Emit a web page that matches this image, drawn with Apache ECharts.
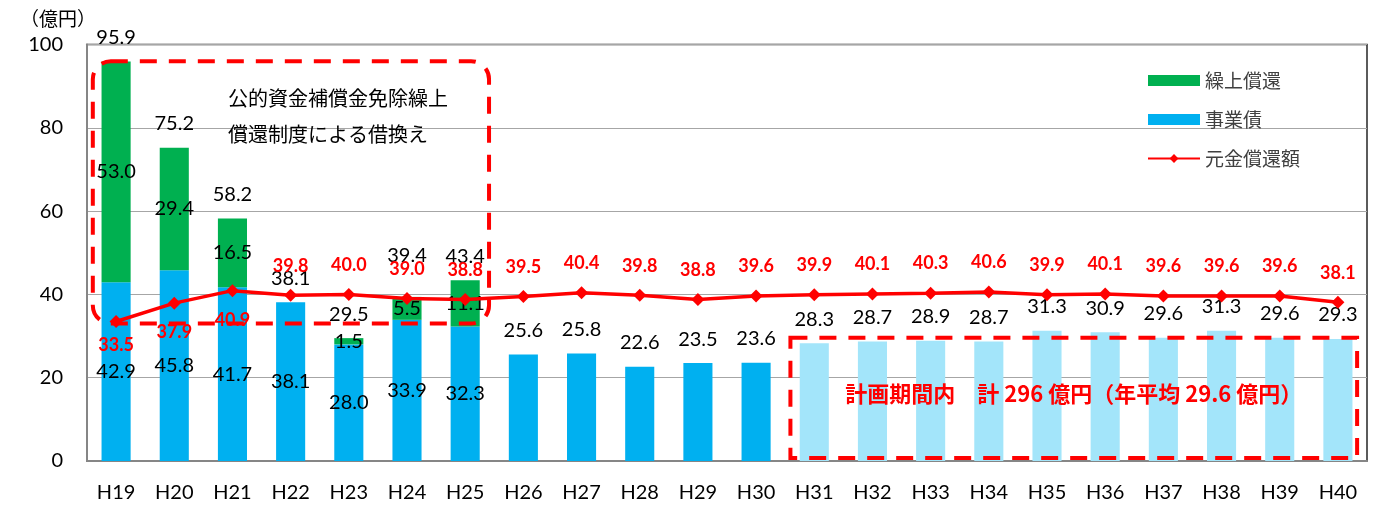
<!DOCTYPE html>
<html>
<head>
<meta charset="utf-8">
<script src="https://cdn.jsdelivr.net/npm/echarts@6/dist/echarts.min.js"></script>
<style>
  html, body { margin: 0; padding: 0; background: #fff; }
  #chart { width: 1389px; height: 505px; }
</style>
</head>
<body>
<div id="chart"></div>
<script>
// Fiscal years (Heisei)
const categories = ['H19','H20','H21','H22','H23','H24','H25','H26','H27','H28','H29','H30',
                    'H31','H32','H33','H34','H35','H36','H37','H38','H39','H40'];
// 事業債 (億円)
const jigyosai = [42.9,45.8,41.7,38.1,28.0,33.9,32.3,25.6,25.8,22.6,23.5,23.6,
                  28.3,28.7,28.9,28.7,31.3,30.9,29.6,31.3,29.6,29.3];
// 繰上償還 (億円)
const kuriage = [53.0,29.4,16.5,0,1.5,5.5,11.1,0,0,0,0,0,
                 0,0,0,0,0,0,0,0,0,0];
// Labelled bar totals (億円)
const totals = [95.9,75.2,58.2,38.1,29.5,39.4,43.4,25.6,25.8,22.6,23.5,23.6,
                28.3,28.7,28.9,28.7,31.3,30.9,29.6,31.3,29.6,29.3];
// 元金償還額 (億円)
const gankin = [33.5,37.9,40.9,39.8,40.0,39.0,38.8,39.5,40.4,39.8,38.8,39.6,
                39.9,40.1,40.3,40.6,39.9,40.1,39.6,39.6,39.6,38.1];
const yTicks = [0,20,40,60,80,100];
const planStartIndex = 12;   // first year of the plan period (H31)
const refinanceEndIndex = 6; // last year of the refinancing period (H25)

const FONT = 'Lato, "Noto Sans CJK JP", sans-serif';
const JP = '"Noto Sans CJK JP", sans-serif';
const GREEN = '#00b050', BLUE = '#00b0f0', LIGHT = '#a3e5fa', RED = '#ff0000';

const chart = echarts.init(document.getElementById('chart'), null, { renderer: 'canvas' });

const option = {
  animation: false,
  textStyle: { fontFamily: FONT },
  grid: { left: 87, right: 22, top: 44.5, bottom: 44, show: true,
          borderColor: '#262626', borderWidth: 1.5, backgroundColor: 'transparent' },
  legend: {
    orient: 'vertical', left: 1142, top: 66, itemGap: 20,
    itemWidth: 52, itemHeight: 11,
    textStyle: { fontFamily: JP, fontSize: 19, color: '#404040' },
    data: [{ name: '繰上償還', icon: 'rect' }, { name: '事業債', icon: 'rect' }, { name: '元金償還額' }]
  },
  xAxis: {
    type: 'category', data: categories,
    axisTick: { show: false },
    axisLine: { lineStyle: { color: '#868686', width: 2 } },
    axisLabel: { fontSize: 20, color: '#000', margin: 22, fontFamily: FONT }
  },
  yAxis: {
    type: 'value', min: yTicks[0], max: yTicks[yTicks.length - 1], interval: 20,
    name: '（億円）', nameLocation: 'end', nameGap: 16,
    nameTextStyle: { fontFamily: JP, fontSize: 19, color: '#000', align: 'center', padding: [0, 0, 0, -58] },
    axisLine: { show: true, lineStyle: { color: '#868686', width: 2 } },
    axisTick: { show: false },
    splitLine: { lineStyle: { color: '#a6a6a6', width: 1 } },
    axisLabel: { fontSize: 20, color: '#000', margin: 24, fontFamily: FONT }
  },
  series: [
    {
      name: '事業債', type: 'bar', stack: 'debt', barWidth: '50%',
      itemStyle: { color: BLUE },
      data: jigyosai.map((v, i) => ({
        value: v,
        itemStyle: { color: i >= planStartIndex ? LIGHT : BLUE },
        label: { show: i <= refinanceEndIndex }
      })),
      label: { position: 'inside', fontSize: 20, color: '#000', fontFamily: FONT,
               formatter: p => p.value.toFixed(1) }
    },
    {
      name: '繰上償還', type: 'bar', stack: 'debt',
      itemStyle: { color: GREEN },
      data: kuriage,
      label: { show: true, position: 'inside', fontSize: 20, color: '#000', fontFamily: FONT,
               formatter: p => (p.value ? p.value.toFixed(1) : '') }
    },
    {
      name: '合計', type: 'bar', stack: 'debt',
      itemStyle: { color: 'transparent' },
      data: totals.map((t, i) => ({ value: 0, label: i === 5 ? { distance: 31 } : {} })),
      label: { show: true, position: 'top', distance: 14, fontSize: 20, color: '#000', fontFamily: FONT,
               formatter: p => totals[p.dataIndex].toFixed(1) },
      tooltip: { show: false }
    },
    {
      name: '元金償還額', type: 'line', z: 5,
      symbol: 'diamond', symbolSize: 13,
      lineStyle: { color: RED, width: 3.5 },
      itemStyle: { color: RED },
      data: gankin.map((v, i) => ({
        value: v,
        label: i < 3 ? { position: 'bottom', distance: i === 0 ? 8 : 14 } : { position: 'top', distance: 14 }
      })),
      label: { show: true, fontSize: 18, fontWeight: 'bold', color: RED, fontFamily: FONT,
               formatter: p => p.value.toFixed(1) }
    }
  ]
};
chart.setOption(option);

// Annotation boxes and captions, placed from the axes' own scales
const px = (idx, val) => chart.convertToPixel({ gridIndex: 0 }, [idx, val]);
const catW = px(1, 0)[0] - px(0, 0)[0];

const b1l = px(0, 0)[0] - 0.4 * catW;
const b1r = px(refinanceEndIndex, 0)[0] + 0.41 * catW;
const b1t = px(0, 96)[1];
const b1b = px(0, 33)[1];

const b2l = px(planStartIndex, 0)[0] - 0.41 * catW;
const b2r = px(categories.length - 1, 0)[0] + 0.33 * catW;
const b2t = px(0, 29.6)[1];
const b2b = px(0, 0.7)[1];

const dash = { stroke: RED, lineWidth: 4, lineDash: [17, 12], fill: 'transparent' };

chart.setOption({
  graphic: [
    { type: 'rect', z: 10, silent: true,
      shape: { x: b1l, y: b1t, width: b1r - b1l, height: b1b - b1t, r: 18 }, style: dash },
    { type: 'rect', z: 10, silent: true,
      shape: { x: b2l, y: b2t, width: b2r - b2l, height: b2b - b2t, r: 0 }, style: dash },
    { type: 'text', z: 11, silent: true, left: 228, top: 80,
      style: { text: '公的資金補償金免除繰上\n償還制度による借換え', fill: '#000',
               font: '20px "Noto Sans CJK JP", sans-serif', lineHeight: 36 } },
    { type: 'text', z: 11, silent: true,
      x: (b2l + b2r) / 2, y: (b2t + b2b) / 2 - 4,
      style: { text: '計画期間内　計 296 億円（年平均 29.6 億円）', fill: RED,
               font: 'bold 22px "Noto Sans CJK JP", sans-serif',
               align: 'center', verticalAlign: 'middle' } }
  ]
});
</script>
</body>
</html>
